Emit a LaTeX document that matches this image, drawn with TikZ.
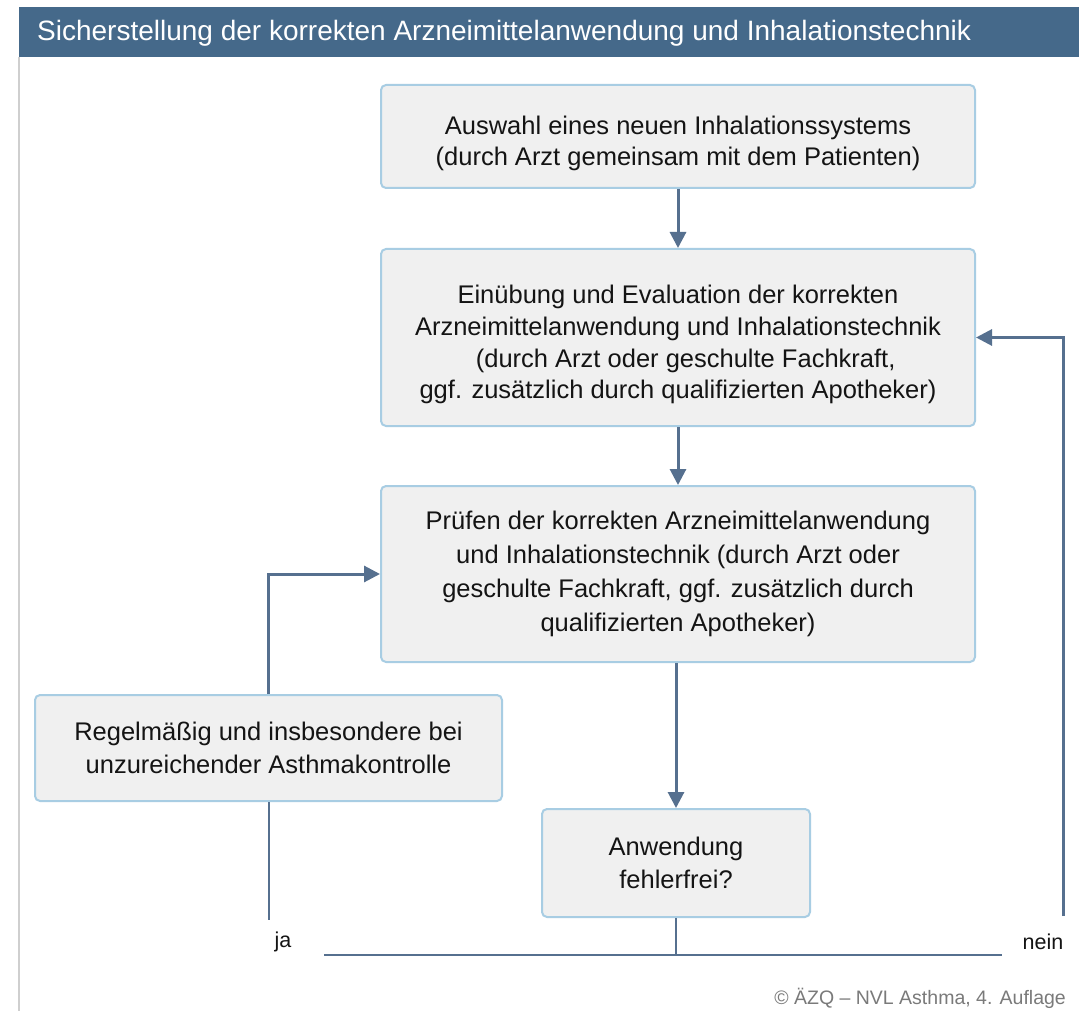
\documentclass[tikz,border=0pt]{standalone}
\usepackage{fontspec}
\setmainfont{Liberation Sans}
\usetikzlibrary{arrows.meta}
\definecolor{hdr}{HTML}{45698A}
\definecolor{conn}{HTML}{56708F}
\definecolor{bxfill}{HTML}{F0F0F0}
\definecolor{bxline}{HTML}{A8CDE3}
\definecolor{txt}{HTML}{141414}
\definecolor{side}{HTML}{CFCFCF}
\definecolor{copy}{HTML}{7A7A7A}
\begin{document}
\begin{tikzpicture}[x=1pt,y=-1pt,
  flowbox/.style={draw=bxline,line width=2pt,fill=bxfill,rounded corners=5pt,
    align=center,text=txt,inner sep=0pt,font=\fontsize{25.5}{32.5}\selectfont},
  mainarrow/.style={draw=conn,line width=3pt,-{Triangle[length=16pt,width=16pt]}},
  thinline/.style={draw=conn,line width=2pt},
  lbl/.style={text=txt,font=\fontsize{21.5}{24}\selectfont,inner sep=0pt}]
\useasboundingbox (0,0) rectangle (1079,1011);
\fill[white] (0,0) rectangle (1079,1011);
% header
\fill[hdr] (19,7) rectangle (1079,57);
\node[anchor=west,text=white,inner sep=0pt,font=\fontsize{28}{30}\selectfont] (title) at (37,33) {Sicherstellung der korrekten Arzneimittelanwendung und Inhalationstechnik};
\draw[side,line width=1.5pt] (19,57) -- (19,1011);
% boxes
\node[flowbox,minimum width=594pt,minimum height=103pt,font=\fontsize{25.5}{31}\selectfont] (b1) at (678,136.5)
  {\\[1pt]Auswahl eines neuen Inhalationssystems\\(durch Arzt gemeinsam mit dem Patienten)};
\node[flowbox,minimum width=594pt,minimum height=177pt,font=\fontsize{25.5}{31.7}\selectfont] (b2) at (678,337.5)
  {\\[1pt]Einübung und Evaluation der korrekten\\Arzneimittelanwendung und Inhalationstechnik\\\hspace*{0.6em}(durch Arzt oder geschulte Fachkraft,\\ggf. zusätzlich durch qualifizierten Apotheker)};
\node[flowbox,minimum width=594pt,minimum height=176pt,font=\fontsize{25.5}{34}\selectfont] (b3) at (678,574)
  {Prüfen der korrekten Arzneimittelanwendung\\und Inhalationstechnik (durch Arzt oder\\geschulte Fachkraft, ggf. zusätzlich durch\\qualifizierten Apotheker)};
\node[flowbox,minimum width=467pt,minimum height=106pt] (b4) at (268.5,748)
  {Regelmäßig und insbesondere bei\\unzureichender Asthmakontrolle};
\node[flowbox,minimum width=268pt,minimum height=108pt] (b5) at (676,863)
  {Anwendung\\fehlerfrei?};
% labels
\node[lbl] (ja) at (283,942) {ja};
\node[lbl] (nein) at (1043,942) {nein};
\node[anchor=east,text=copy,inner sep=0pt,font=\fontsize{19.5}{22}\selectfont] (cr) at (1066,998) {© ÄZQ – NVL Asthma, 4. Auflage};
% coordinates
\coordinate (jaend) at (b4.south |- 0,920);
\coordinate (hl) at (324,955);
\coordinate (hr) at (1002,955);
\coordinate (b5foot) at (b5.south |- hl);
\coordinate (neinend) at (1063,916);
% connectors
\draw[mainarrow] (b1.south) -- (b2.north);
\draw[mainarrow] (b2.south) -- (b3.north);
\draw[mainarrow] (b3.south -| b5.north) -- (b5.north);
\draw[mainarrow] (b4.north) |- (b3.west);
\draw[mainarrow] (neinend) |- (b2.east);
\draw[thinline] (b4.south) -- (jaend);
\draw[thinline] (hl) -- (hr);
\draw[thinline] (b5.south) -- (b5foot);
\end{tikzpicture}
\end{document}
